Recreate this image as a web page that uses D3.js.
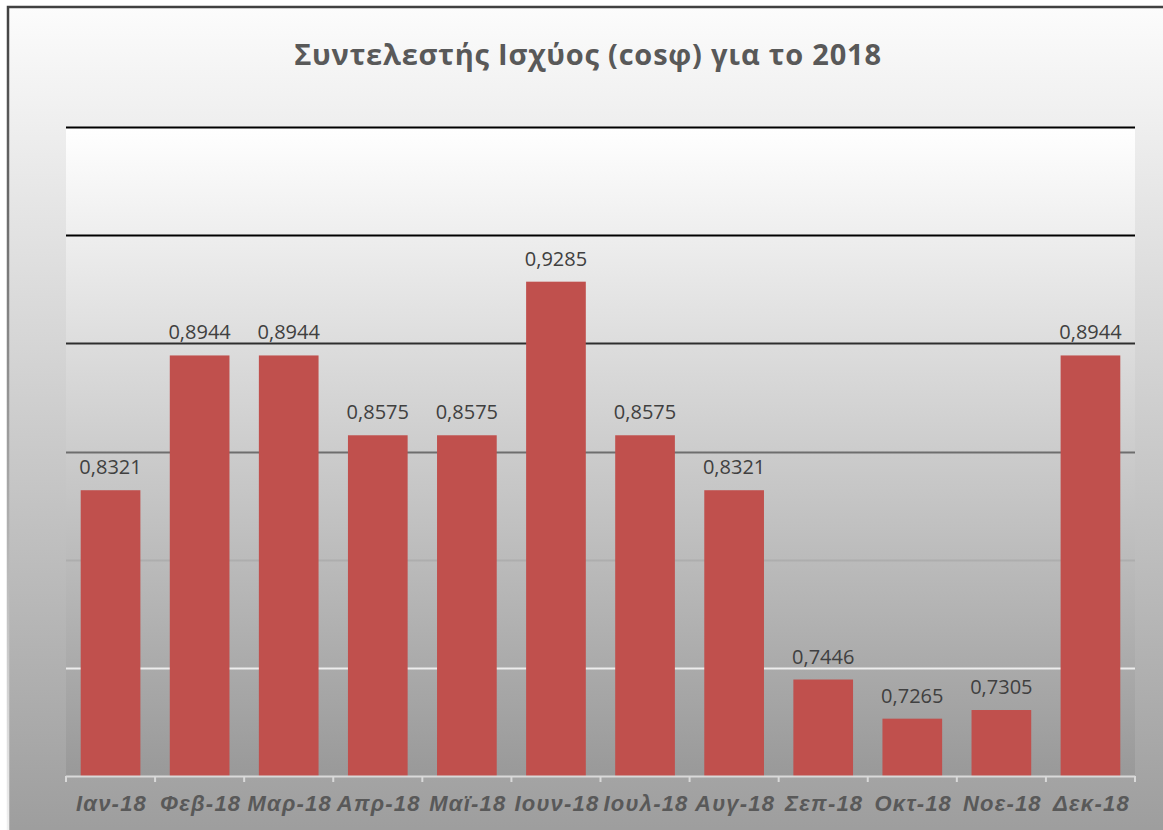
<!DOCTYPE html>
<meta charset="utf-8">
<script src="https://d3js.org/d3.v7.min.js"></script>
<style>
  body { margin: 0; background: #fff; }
  .title { font-family: "Open Sans", sans-serif; font-size: 29px; font-weight: bold; fill: #595959; letter-spacing: 0.8px; }
  .vlabel { font-family: "Open Sans", sans-serif; font-size: 20px; fill: #404040; }
  .xlabel { font-family: "Liberation Sans", Arial, sans-serif; font-size: 22px; font-weight: bold; font-style: italic; fill: #595959; letter-spacing: 1.2px; }
</style>
<div id="chart"></div>
<script>
// data
var months = ["Ιαν-18", "Φεβ-18", "Μαρ-18", "Απρ-18", "Μαϊ-18", "Ιουν-18",
              "Ιουλ-18", "Αυγ-18", "Σεπ-18", "Οκτ-18", "Νοε-18", "Δεκ-18"];
var cosphi = [0.8321, 0.8944, 0.8944, 0.8575, 0.8575, 0.9285,
              0.8575, 0.8321, 0.7446, 0.7265, 0.7305, 0.8944];
var yTicks = [0.7, 0.75, 0.8, 0.85, 0.9, 0.95, 1.0];
var title = "Συντελεστής Ισχύος (cosφ) για το 2018";

var width = 1163, height = 830;
var plot = {left: 66, right: 1135, top: 127, bottom: 776};

var svg = d3.select("#chart").append("svg")
    .attr("width", width)
    .attr("height", height);

var defs = svg.append("defs");

// chart area background gradient
var bg = defs.append("linearGradient").attr("id", "bgGrad")
    .attr("x1", 0).attr("y1", 0).attr("x2", 0).attr("y2", 1);
bg.append("stop").attr("offset", "0%").attr("stop-color", "#fcfcfc");
bg.append("stop").attr("offset", "100%").attr("stop-color", "#9d9d9d");

// plot area gradient
var pg = defs.append("linearGradient").attr("id", "plotGrad")
    .attr("x1", 0).attr("y1", 0).attr("x2", 0).attr("y2", 1);
pg.append("stop").attr("offset", "0%").attr("stop-color", "#ffffff");
pg.append("stop").attr("offset", "100%").attr("stop-color", "#999999");

// gridline gradient: black at the top, white at the bottom
var gg = defs.append("linearGradient").attr("id", "gridGrad")
    .attr("gradientUnits", "userSpaceOnUse")
    .attr("x1", 0).attr("y1", 265).attr("x2", 0).attr("y2", 700);
gg.append("stop").attr("offset", "0%").attr("stop-color", "#000000");
gg.append("stop").attr("offset", "100%").attr("stop-color", "#ffffff");

// frame border gradient
var fg = defs.append("linearGradient").attr("id", "frameGrad")
    .attr("gradientUnits", "userSpaceOnUse")
    .attr("x1", 0).attr("y1", 0).attr("x2", 0).attr("y2", height);
fg.append("stop").attr("offset", "0%").attr("stop-color", "#404040");
fg.append("stop").attr("offset", "100%").attr("stop-color", "#f0f0f0");

svg.append("rect")
    .attr("x", 8).attr("y", 7)
    .attr("width", width).attr("height", height)
    .attr("fill", "url(#bgGrad)");

// frame (left and top)
svg.append("path")
    .attr("d", "M8," + height + " V7 H" + width)
    .attr("fill", "none")
    .attr("stroke", "url(#frameGrad)")
    .attr("stroke-width", 2.5);

svg.append("rect")
    .attr("x", plot.left).attr("y", plot.top)
    .attr("width", plot.right - plot.left)
    .attr("height", plot.bottom - plot.top)
    .attr("fill", "url(#plotGrad)");

var x = d3.scaleBand()
    .domain(months)
    .range([plot.left, plot.right])
    .paddingInner(0.33)
    .paddingOuter(0.165);

var y = d3.scaleLinear()
    .domain([0.7, 1.0])
    .range([plot.bottom, plot.top]);

// gridlines
svg.append("g")
  .selectAll("line")
  .data(yTicks.slice(1))
  .enter()
  .append("line")
    .attr("x1", plot.left).attr("x2", plot.right)
    .attr("y1", function(d){ return Math.round(y(d)) + 0.5; })
    .attr("y2", function(d){ return Math.round(y(d)) + 0.5 + 0.001; })
    .attr("stroke", "url(#gridGrad)")
    .attr("stroke-width", 2);

// bars
svg.append("g")
  .selectAll("rect")
  .data(cosphi)
  .enter()
  .append("rect")
    .attr("x", function(d, i){ return x(months[i]); })
    .attr("y", function(d){ return y(d); })
    .attr("width", x.bandwidth())
    .attr("height", function(d){ return y(0.7) - y(d); })
    .attr("fill", "#c0504d");

// value labels
var fmt = d3.format(".4f");
svg.append("g")
  .selectAll("text")
  .data(cosphi)
  .enter()
  .append("text")
    .attr("class", "vlabel")
    .attr("x", function(d, i){ return x(months[i]) + x.bandwidth() / 2; })
    .attr("y", function(d){ return y(d) - 16; })
    .attr("text-anchor", "middle")
    .text(function(d){ return fmt(d).replace(".", ","); });

// x axis line with category separators
var xAxis = svg.append("g")
    .attr("transform", "translate(0," + plot.bottom + ")");

var edges = d3.range(months.length + 1).map(function(i){ return plot.left + i * (plot.right - plot.left) / months.length; });
xAxis.append("line")
    .attr("x1", plot.left).attr("x2", plot.right)
    .attr("y1", 0.5).attr("y2", 0.5)
    .attr("stroke", "#d9d9d9").attr("stroke-width", 2);
xAxis.selectAll(".sep")
  .data(edges)
  .enter()
  .append("line")
    .attr("x1", function(d){ return d; }).attr("x2", function(d){ return d; })
    .attr("y1", 0).attr("y2", 6)
    .attr("stroke", "#d9d9d9").attr("stroke-width", 2);

svg.append("g")
  .selectAll("text")
  .data(months)
  .enter()
  .append("text")
    .attr("class", "xlabel")
    .attr("x", function(d){ return x(d) + x.bandwidth() / 2 + 1; })
    .attr("y", 811)
    .attr("text-anchor", "middle")
    .text(function(d){ return d; });

svg.append("text")
    .attr("class", "title")
    .attr("x", 588)
    .attr("y", 65)
    .attr("text-anchor", "middle")
    .text(title);
</script>
